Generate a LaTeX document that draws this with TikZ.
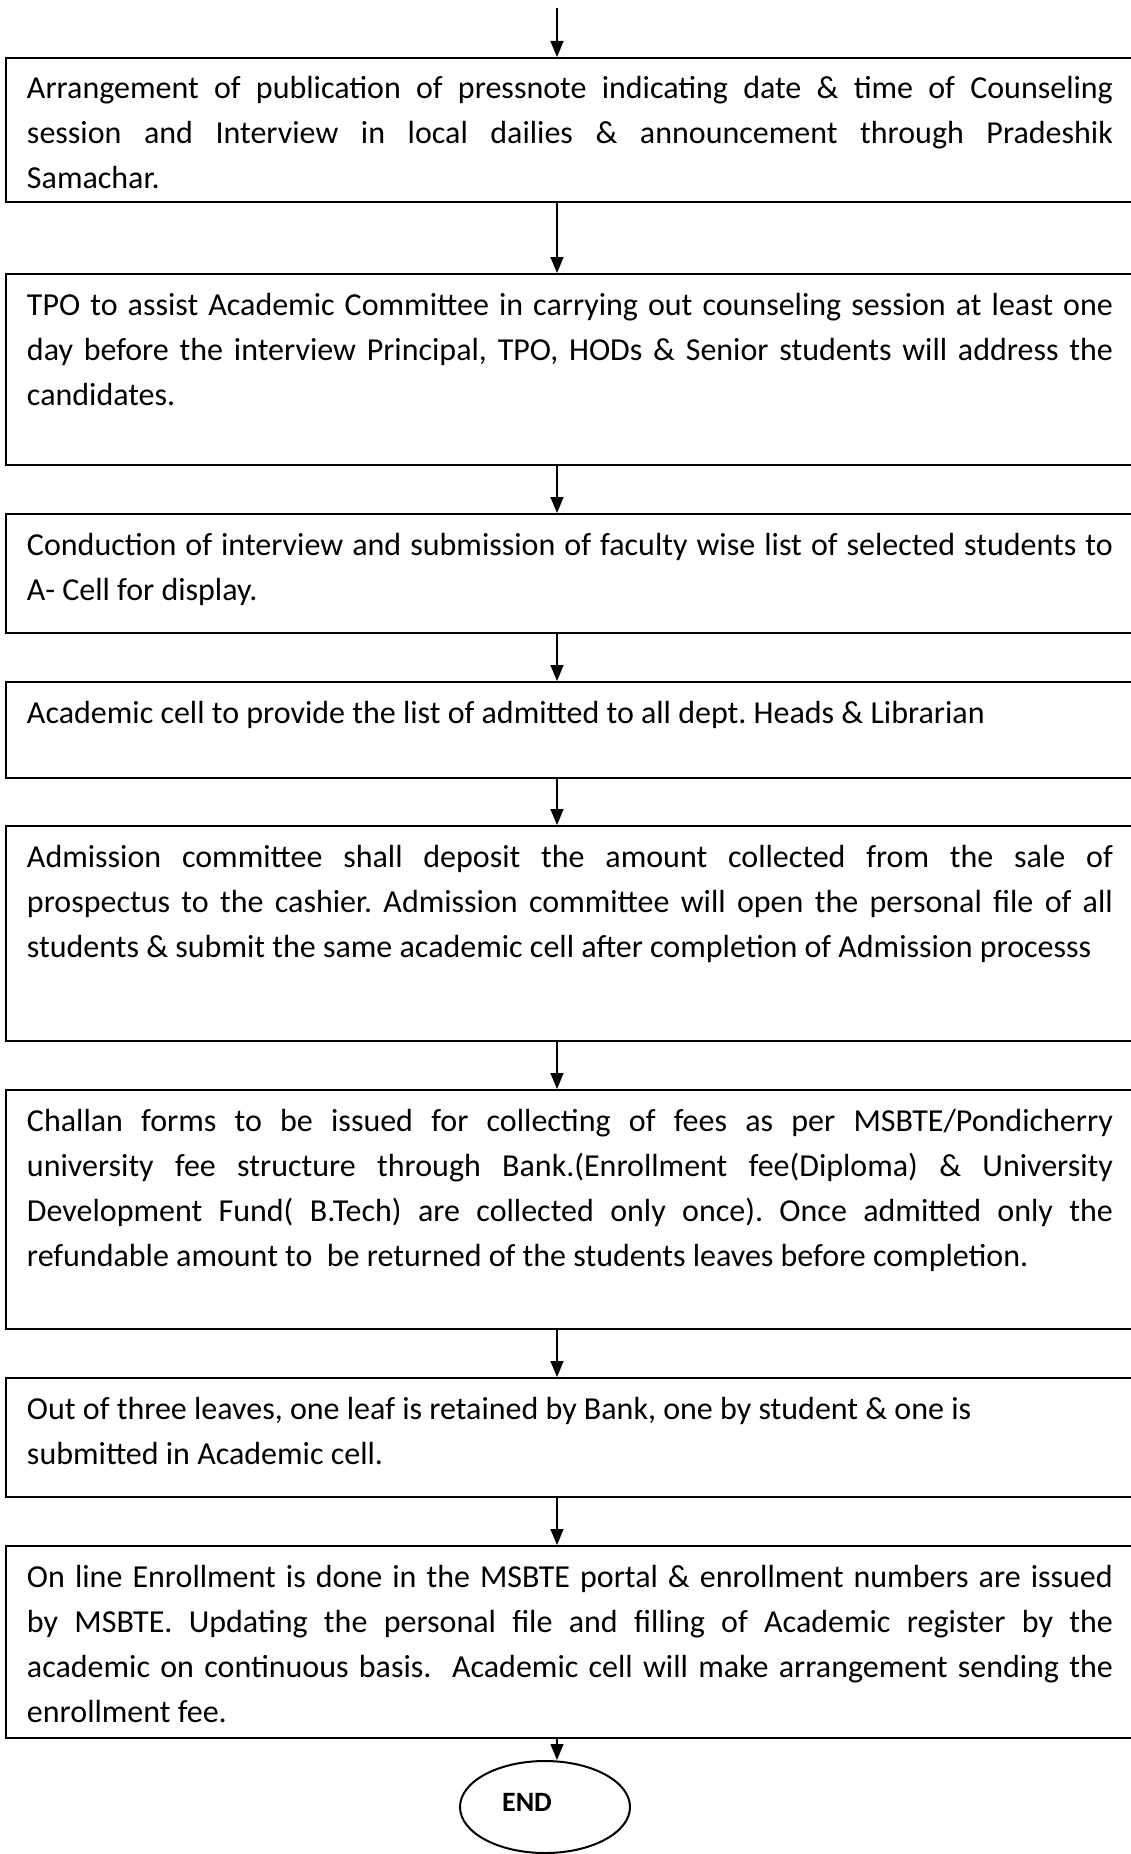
\documentclass[tikz,border=0pt]{standalone}
\usepackage{fontspec}
\setmainfont{Carlito}
\usetikzlibrary{arrows.meta,shapes.geometric}
\tolerance=10000
\hbadness=10000
\hyphenpenalty=10000
\exhyphenpenalty=10000
\frenchspacing

\begin{document}
\begin{tikzpicture}[x=1pt,y=-1pt,
  stepbox/.style={draw, line width=2pt, anchor=north west,
    inner xsep=21pt, inner ysep=0pt, text width=1086pt, align=justify,
    font=\fontsize{32}{45}\selectfont, text height=41pt},
  flow/.style={line width=1.3pt, -{Triangle[length=16pt,width=13pt]}},
  endshape/.style={draw, ellipse, line width=2pt, minimum width=170pt,
    minimum height=92pt, inner sep=0pt},
]
\useasboundingbox (0,0) rectangle (1130,1854);
\fill[white] (0,0) rectangle (1130,1854);

% vertical axis of the connectors
\coordinate (axis) at (557,0);
\coordinate (start) at (557,8);

\node[stepbox, text depth=103pt] (b1) at (5,57)
  {Arrangement of publication of pressnote indicating date \& time of Counseling\linebreak
   session and Interview in local dailies \& announcement through Pradeshik\linebreak
   Samachar.};

\node[stepbox, text depth=150pt] (b2) at (5,273)
  {TPO to assist Academic Committee in carrying out counseling session at least one\linebreak
   day before the interview Principal, TPO, HODs \& Senior students will address the\linebreak
   candidates.};

\node[stepbox, text depth=78pt] (b3) at (5,513)
  {Conduction of interview and submission of faculty wise list of selected students to\linebreak
   A- Cell for display.};

\node[stepbox, text depth=55pt] (b4) at (5,681)
  {Academic cell to provide the list of admitted to all dept. Heads \& Librarian};

\node[stepbox, text depth=174pt] (b5) at (5,825)
  {Admission committee shall deposit the amount collected from the sale of\linebreak
   prospectus to the cashier. Admission committee will open the personal file of all\linebreak
   students \& submit the same academic cell after completion of Admission processs};

\node[stepbox, text depth=198pt] (b6) at (5,1089)
  {Challan forms to be issued for collecting of fees as per MSBTE/Pondicherry\linebreak
   university fee structure through Bank.(Enrollment fee(Diploma) \& University\linebreak
   Development Fund( B.Tech) are collected only once). Once admitted only the\linebreak
   refundable amount to\ \ be returned of the students leaves before completion.};

\node[stepbox, text depth=78pt] (b7) at (5,1377)
  {Out of three leaves, one leaf is retained by Bank, one by student \& one is\\
   submitted in Academic cell.};

\node[stepbox, text depth=151pt] (b8) at (5,1545)
  {On line Enrollment is done in the MSBTE portal \& enrollment numbers are issued\linebreak
   by MSBTE. Updating the personal file and filling of Academic register by the\linebreak
   academic on continuous basis.\ \ Academic cell will make arrangement sending the\linebreak
   enrollment fee.};

\node[endshape] (end) at (545,1807) {};
\node[font=\bfseries\fontsize{28}{34}\selectfont, inner sep=0pt] (endlbl) at (527,1802) {END};

% connectors
\draw[flow] (start) -- (b1.north -| start);
\draw[flow] (b1.south -| axis) -- (b2.north -| axis);
\draw[flow] (b2.south -| axis) -- (b3.north -| axis);
\draw[flow] (b3.south -| axis) -- (b4.north -| axis);
\draw[flow] (b4.south -| axis) -- (b5.north -| axis);
\draw[flow] (b5.south -| axis) -- (b6.north -| axis);
\draw[flow] (b6.south -| axis) -- (b7.north -| axis);
\draw[flow] (b7.south -| axis) -- (b8.north -| axis);
\draw[flow] (b8.south -| axis) -- (end.north -| axis);
\end{tikzpicture}
\end{document}
